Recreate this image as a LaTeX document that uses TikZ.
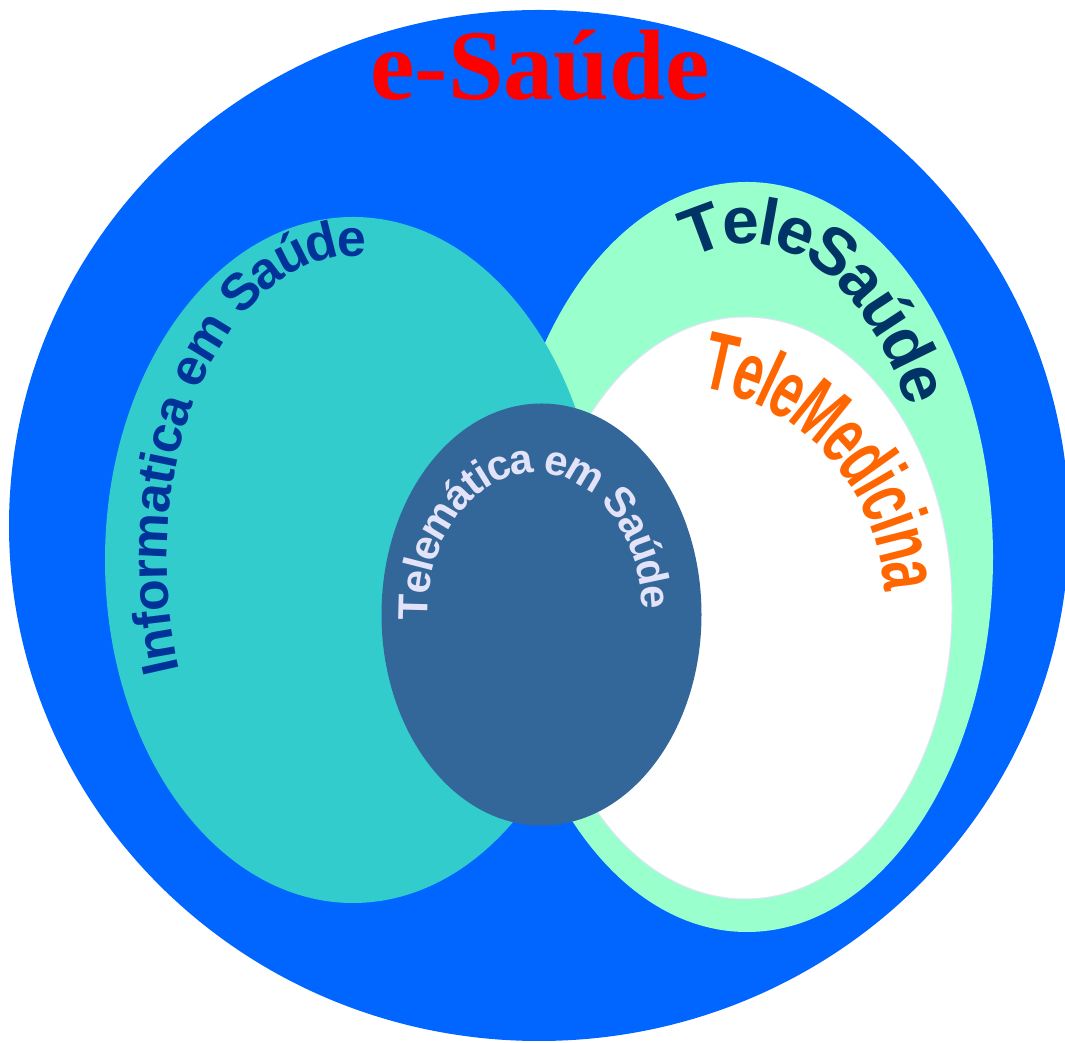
\documentclass[tikz,border=0pt]{standalone}
\usepackage{fontspec}
\usepackage{tikz}
\usetikzlibrary{decorations.text}

\newfontfamily\headsans{Liberation Sans}
\newfontfamily\headnarrow[FakeStretch=0.63]{Liberation Sans}
\newfontfamily\headserif{Liberation Serif}

\definecolor{saudeblue}{RGB}{0,102,255}
\definecolor{infocyan}{RGB}{51,204,204}
\definecolor{telemint}{RGB}{153,255,204}
\definecolor{telematic}{RGB}{51,102,153}
\definecolor{infotext}{RGB}{0,51,153}
\definecolor{teletext}{RGB}{0,51,102}
\definecolor{meditext}{RGB}{255,102,0}
\definecolor{lilac}{RGB}{226,226,248}

\begin{document}
\begin{tikzpicture}[x=1pt,y=1pt,
  curved/.style={decorate,decoration={text along path,text align=left,#1}}]

\coordinate (saude) at (539,517.5);
\coordinate (infoc) at (353,483);
\coordinate (telec) at (747,486);
\coordinate (medc) at (745,435);
\coordinate (medarc) at (666,439);
\coordinate (matc) at (541.5,428.5);
\coordinate (matarc) at (535,431);

\useasboundingbox (0,0) rectangle (1065,1043);
\fill[white] (0,0) rectangle (1065,1043);
\clip (0,0) rectangle (1065,1043);

\fill[saudeblue] (saude) ellipse [x radius=530,y radius=515.5];
\fill[telemint] (telec) ellipse [x radius=246,y radius=375];
\filldraw[draw=lilac,fill=white,line width=1pt] (medc) ellipse [x radius=207,y radius=291];
\fill[infocyan] (infoc) ellipse [x radius=248,y radius=343];
\fill[telematic] (matc) ellipse [x radius=160,y radius=211];

\node[anchor=base,text=red,font=\headserif\bfseries\fontsize{100}{100}\selectfont] (esaude) at (540,943) {e-Saúde};

\path[curved={raise=-14pt,text={|\headsans\bfseries\fontsize{52}{52}\selectfont\color{infotext}|Informatica em Saúde}}]
  (infoc) ++(201:200 and 318) arc [start angle=201,end angle=50,x radius=200,y radius=318];
\path[curved={raise=-17pt,text={|\headsans\bfseries\fontsize{66}{66}\selectfont\color{teletext}|TeleSaúde}}]
  (telec) ++(108:200 and 330) arc [start angle=108,end angle=-10,x radius=200,y radius=330];
\path[curved={raise=-21pt,text={|\headnarrow\bfseries\fontsize{82}{82}\selectfont\color{meditext}|TeleMedicina}}]
  (medarc) ++(81:240) arc [start angle=81,end angle=-15,radius=240];
\path[curved={raise=-11pt,text={|\headsans\bfseries\fontsize{42}{42}\selectfont\color{lilac}|Telemática em Saúde}}]
  (matarc) ++(183:118 and 150) arc [start angle=183,end angle=-30,x radius=118,y radius=150];
\end{tikzpicture}
\end{document}
